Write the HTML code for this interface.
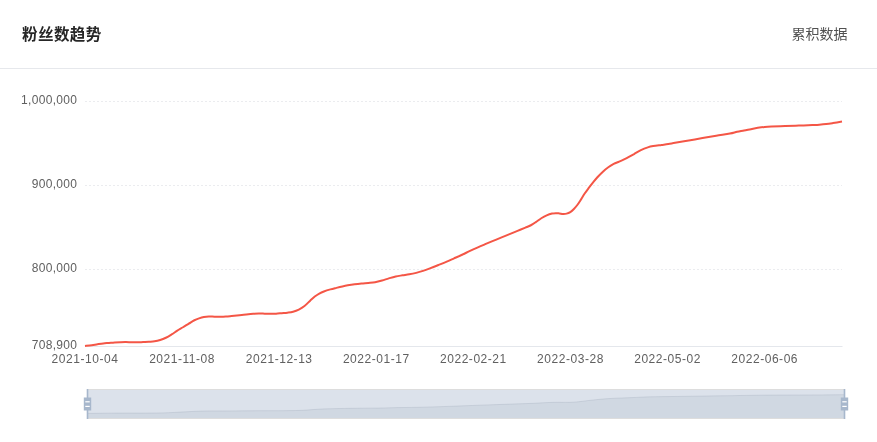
<!DOCTYPE html>
<html lang="zh-CN"><head><meta charset="utf-8"><title>粉丝数趋势</title>
<style>
html,body{margin:0;padding:0;background:#fff;}
body{width:877px;height:442px;overflow:hidden;position:relative;font-family:"Liberation Sans","Noto Sans CJK SC",sans-serif;}
.hd{position:absolute;left:0;top:0;width:877px;height:68px;border-bottom:1px solid #e6e8ec;box-sizing:content-box;}
.ttl{position:absolute;left:22px;top:23.4px;font-size:15.5px;letter-spacing:0.45px;line-height:24px;font-weight:bold;color:#262626;white-space:nowrap;}
.tab{position:absolute;left:791.5px;top:22.7px;font-size:14px;line-height:22px;color:#505050;white-space:nowrap;}
svg{position:absolute;left:0;top:0;}
.xl,.yl{font-family:"Liberation Sans","Noto Sans CJK SC",sans-serif;font-size:12px;fill:#606060;}
.xl{letter-spacing:0.54px;}
.yl{letter-spacing:0.32px;}
.gl{stroke:#ebecef;stroke-width:1;stroke-dasharray:2 2;}
</style></head><body>
<div class="hd"><div class="ttl">粉丝数趋势</div><div class="tab">累积数据</div></div>
<svg width="877" height="442" viewBox="0 0 877 442">
<line x1="85" x2="842" y1="101.5" y2="101.5" class="gl"/><line x1="85" x2="842" y1="185.5" y2="185.5" class="gl"/><line x1="85" x2="842" y1="269.5" y2="269.5" class="gl"/>
<line x1="85" x2="842.5" y1="346.5" y2="346.5" stroke="#e4e7ec" stroke-width="1"/>
<text x="77.3" y="103.5" text-anchor="end" class="yl">1,000,000</text><text x="77.3" y="187.5" text-anchor="end" class="yl">900,000</text><text x="77.3" y="271.5" text-anchor="end" class="yl">800,000</text><text x="77.3" y="348.5" text-anchor="end" class="yl">708,900</text>
<text x="85.0" y="362.7" text-anchor="middle" class="xl">2021-10-04</text><text x="182.1" y="362.7" text-anchor="middle" class="xl">2021-11-08</text><text x="279.2" y="362.7" text-anchor="middle" class="xl">2021-12-13</text><text x="376.3" y="362.7" text-anchor="middle" class="xl">2022-01-17</text><text x="473.4" y="362.7" text-anchor="middle" class="xl">2022-02-21</text><text x="570.5" y="362.7" text-anchor="middle" class="xl">2022-03-28</text><text x="667.6" y="362.7" text-anchor="middle" class="xl">2022-05-02</text><text x="764.7" y="362.7" text-anchor="middle" class="xl">2022-06-06</text>
<path d="M85.00,346.00C86.13,345.86 89.72,345.44 91.80,345.15C93.88,344.86 95.60,344.53 97.50,344.25C99.40,343.97 101.30,343.67 103.20,343.45C105.10,343.23 107.00,343.12 108.90,342.95C110.80,342.77 112.70,342.53 114.60,342.40C116.50,342.27 118.40,342.21 120.30,342.15C122.20,342.09 124.10,342.02 126.00,342.05C127.90,342.08 129.80,342.25 131.70,342.30C133.60,342.35 135.50,342.39 137.40,342.35C139.30,342.31 141.20,342.15 143.10,342.05C145.00,341.95 146.90,341.87 148.80,341.75C150.70,341.63 152.60,341.63 154.50,341.35C156.40,341.07 158.30,340.65 160.20,340.05C162.10,339.45 164.00,338.68 165.90,337.75C167.80,336.82 169.70,335.63 171.60,334.45C173.50,333.27 175.40,331.85 177.30,330.65C179.20,329.45 181.08,328.42 183.00,327.25C184.92,326.08 186.90,324.82 188.80,323.65C190.70,322.48 192.70,321.13 194.40,320.25C196.10,319.37 197.42,318.90 199.00,318.35C200.58,317.80 202.27,317.27 203.90,316.95C205.53,316.62 207.03,316.45 208.80,316.40C210.57,316.35 212.60,316.59 214.50,316.65C216.40,316.71 218.30,316.77 220.20,316.75C222.10,316.73 224.00,316.67 225.90,316.55C227.80,316.43 228.95,316.30 231.60,316.05C234.25,315.80 238.20,315.42 241.80,315.05C245.40,314.68 250.35,314.10 253.20,313.85C256.05,313.60 257.00,313.58 258.90,313.55C260.80,313.52 262.70,313.61 264.60,313.65C266.50,313.69 268.40,313.80 270.30,313.80C272.20,313.80 274.10,313.76 276.00,313.65C277.90,313.54 279.80,313.32 281.70,313.15C283.60,312.98 285.50,312.88 287.40,312.65C289.30,312.42 291.20,312.25 293.10,311.75C295.00,311.25 296.90,310.60 298.80,309.65C300.70,308.70 302.60,307.55 304.50,306.05C306.40,304.55 308.48,302.23 310.20,300.65C311.92,299.07 313.28,297.73 314.80,296.55C316.32,295.37 317.78,294.40 319.30,293.55C320.82,292.70 322.05,292.15 323.90,291.45C325.75,290.75 328.32,289.95 330.40,289.35C332.48,288.75 334.40,288.33 336.40,287.85C338.40,287.37 340.50,286.87 342.40,286.45C344.30,286.03 345.77,285.72 347.80,285.35C349.83,284.98 352.32,284.57 354.60,284.25C356.88,283.93 359.22,283.67 361.50,283.45C363.78,283.23 366.03,283.15 368.30,282.95C370.57,282.75 372.82,282.65 375.10,282.25C377.38,281.85 379.72,281.20 382.00,280.55C384.28,279.90 386.52,279.03 388.80,278.35C391.08,277.67 393.42,276.95 395.70,276.45C397.98,275.95 400.23,275.70 402.50,275.35C404.77,275.00 407.02,274.77 409.30,274.35C411.58,273.93 413.92,273.43 416.20,272.85C418.48,272.27 420.72,271.60 423.00,270.85C425.28,270.10 427.35,269.32 429.90,268.35C432.45,267.38 435.58,266.13 438.30,265.05C441.02,263.97 443.57,262.97 446.20,261.85C448.83,260.73 451.45,259.53 454.10,258.35C456.75,257.17 459.45,255.98 462.10,254.75C464.75,253.52 467.37,252.18 470.00,250.95C472.63,249.72 475.27,248.52 477.90,247.35C480.53,246.18 483.17,245.07 485.80,243.95C488.43,242.83 491.07,241.75 493.70,240.65C496.33,239.55 498.95,238.45 501.60,237.35C504.25,236.25 506.95,235.13 509.60,234.05C512.25,232.97 514.87,231.92 517.50,230.85C520.13,229.78 523.17,228.58 525.40,227.65C527.63,226.72 529.17,226.17 530.90,225.25C532.63,224.33 534.07,223.32 535.80,222.15C537.53,220.98 539.48,219.38 541.30,218.25C543.12,217.12 544.90,216.13 546.70,215.35C548.50,214.57 550.58,213.92 552.10,213.55C553.62,213.18 554.58,213.17 555.80,213.15C557.02,213.13 558.20,213.32 559.40,213.45C560.60,213.58 561.80,213.92 563.00,213.95C564.20,213.98 565.38,213.97 566.60,213.65C567.82,213.33 569.08,212.83 570.30,212.05C571.52,211.27 572.70,210.17 573.90,208.95C575.10,207.73 576.30,206.35 577.50,204.75C578.70,203.15 579.90,201.22 581.10,199.35C582.30,197.48 583.48,195.37 584.70,193.55C585.92,191.73 587.03,190.27 588.40,188.45C589.77,186.63 591.40,184.52 592.90,182.65C594.40,180.78 595.73,179.08 597.40,177.25C599.07,175.42 601.08,173.32 602.90,171.65C604.72,169.98 606.50,168.55 608.30,167.25C610.10,165.95 611.88,164.78 613.70,163.85C615.52,162.92 617.38,162.43 619.20,161.65C621.02,160.87 622.98,159.93 624.60,159.15C626.22,158.37 627.32,157.80 628.90,156.95C630.48,156.10 632.10,155.18 634.10,154.05C636.10,152.92 638.62,151.27 640.90,150.15C643.18,149.03 645.75,148.03 647.80,147.35C649.85,146.67 650.92,146.45 653.20,146.05C655.48,145.65 658.98,145.28 661.50,144.95C664.02,144.62 666.03,144.40 668.30,144.05C670.57,143.70 671.68,143.44 675.10,142.85C678.52,142.26 684.23,141.29 688.80,140.50C693.37,139.71 697.93,138.90 702.50,138.10C707.07,137.30 711.63,136.47 716.20,135.70C720.77,134.93 726.40,134.16 729.90,133.50C733.40,132.84 734.83,132.24 737.20,131.75C739.57,131.26 741.82,130.98 744.10,130.55C746.38,130.12 748.62,129.60 750.90,129.15C753.18,128.70 755.52,128.22 757.80,127.85C760.08,127.48 762.32,127.13 764.60,126.90C766.88,126.67 768.08,126.59 771.50,126.45C774.92,126.31 780.55,126.19 785.10,126.05C789.65,125.91 794.23,125.77 798.80,125.60C803.37,125.43 809.08,125.20 812.50,125.05C815.92,124.90 817.02,124.87 819.30,124.70C821.58,124.53 823.92,124.33 826.20,124.05C828.48,123.78 830.37,123.47 833.00,123.05C835.63,122.63 840.50,121.80 842.00,121.55" fill="none" stroke="#f45646" stroke-width="2" stroke-linejoin="round"/>
<polygon points="87.50,413.40 94.30,413.33 100.00,413.25 105.70,413.19 111.40,413.15 117.10,413.10 122.80,413.08 128.50,413.07 134.20,413.09 139.90,413.10 145.60,413.07 151.30,413.05 157.00,413.01 162.70,412.90 168.40,412.71 174.10,412.44 179.80,412.12 185.50,411.83 191.30,411.53 196.90,411.25 201.50,411.09 206.40,410.97 211.30,410.93 217.00,410.95 222.70,410.96 228.40,410.94 234.10,410.90 244.30,410.82 255.70,410.72 261.40,410.69 267.10,410.70 272.80,410.71 278.50,410.70 284.20,410.66 289.90,410.62 295.60,410.54 301.30,410.37 307.00,410.06 312.70,409.61 317.30,409.27 321.80,409.02 326.40,408.85 332.90,408.67 338.90,408.55 344.90,408.43 350.30,408.34 357.10,408.25 364.00,408.18 370.80,408.14 377.60,408.08 384.50,407.94 391.30,407.75 398.20,407.59 405.00,407.50 411.80,407.42 418.70,407.29 425.50,407.13 432.40,406.92 440.80,406.64 448.70,406.38 456.60,406.08 464.60,405.78 472.50,405.47 480.40,405.16 488.30,404.88 496.20,404.61 504.10,404.33 512.10,404.05 520.00,403.79 527.90,403.52 533.40,403.32 538.30,403.06 543.80,402.74 549.20,402.49 554.60,402.34 558.30,402.31 561.90,402.33 565.50,402.38 569.10,402.35 572.80,402.22 576.40,401.96 580.00,401.61 583.60,401.16 587.20,400.67 590.90,400.25 595.40,399.76 599.90,399.31 605.40,398.84 610.80,398.48 616.20,398.19 621.70,398.01 627.10,397.80 631.40,397.62 636.60,397.38 643.40,397.05 650.30,396.82 655.70,396.71 664.00,396.62 670.80,396.54 677.60,396.44 691.30,396.24 705.00,396.04 718.70,395.84 732.40,395.66 739.70,395.51 746.60,395.41 753.40,395.30 760.30,395.19 767.10,395.11 774.00,395.07 787.60,395.04 801.30,395.00 815.00,394.95 821.80,394.93 828.70,394.87 835.50,394.79 844.50,394.66 844.50,419 87.50,419" fill="rgba(47,69,84,0.09)"/>
<polyline points="87.50,413.40 94.30,413.33 100.00,413.25 105.70,413.19 111.40,413.15 117.10,413.10 122.80,413.08 128.50,413.07 134.20,413.09 139.90,413.10 145.60,413.07 151.30,413.05 157.00,413.01 162.70,412.90 168.40,412.71 174.10,412.44 179.80,412.12 185.50,411.83 191.30,411.53 196.90,411.25 201.50,411.09 206.40,410.97 211.30,410.93 217.00,410.95 222.70,410.96 228.40,410.94 234.10,410.90 244.30,410.82 255.70,410.72 261.40,410.69 267.10,410.70 272.80,410.71 278.50,410.70 284.20,410.66 289.90,410.62 295.60,410.54 301.30,410.37 307.00,410.06 312.70,409.61 317.30,409.27 321.80,409.02 326.40,408.85 332.90,408.67 338.90,408.55 344.90,408.43 350.30,408.34 357.10,408.25 364.00,408.18 370.80,408.14 377.60,408.08 384.50,407.94 391.30,407.75 398.20,407.59 405.00,407.50 411.80,407.42 418.70,407.29 425.50,407.13 432.40,406.92 440.80,406.64 448.70,406.38 456.60,406.08 464.60,405.78 472.50,405.47 480.40,405.16 488.30,404.88 496.20,404.61 504.10,404.33 512.10,404.05 520.00,403.79 527.90,403.52 533.40,403.32 538.30,403.06 543.80,402.74 549.20,402.49 554.60,402.34 558.30,402.31 561.90,402.33 565.50,402.38 569.10,402.35 572.80,402.22 576.40,401.96 580.00,401.61 583.60,401.16 587.20,400.67 590.90,400.25 595.40,399.76 599.90,399.31 605.40,398.84 610.80,398.48 616.20,398.19 621.70,398.01 627.10,397.80 631.40,397.62 636.60,397.38 643.40,397.05 650.30,396.82 655.70,396.71 664.00,396.62 670.80,396.54 677.60,396.44 691.30,396.24 705.00,396.04 718.70,395.84 732.40,395.66 739.70,395.51 746.60,395.41 753.40,395.30 760.30,395.19 767.10,395.11 774.00,395.07 787.60,395.04 801.30,395.00 815.00,394.95 821.80,394.93 828.70,394.87 835.50,394.79 844.50,394.66" fill="none" stroke="#2f4554" stroke-opacity="0.3" stroke-width="0.5"/>
<rect x="87.5" y="389.5" width="757" height="29" fill="rgba(167,183,204,0.4)"/>
<rect x="87.5" y="389.5" width="757" height="29" fill="none" stroke="#ddd" stroke-width="1"/>
<g fill="#a7b7cc"><rect x="86.70" y="389" width="1.6" height="30"/><rect x="83.80" y="397.5" width="7.4" height="13"/></g><g fill="#fff"><rect x="85.30" y="401.2" width="4.4" height="1.2"/><rect x="85.30" y="405.8" width="4.4" height="1.2"/></g>
<g fill="#a7b7cc"><rect x="843.70" y="389" width="1.6" height="30"/><rect x="840.80" y="397.5" width="7.4" height="13"/></g><g fill="#fff"><rect x="842.30" y="401.2" width="4.4" height="1.2"/><rect x="842.30" y="405.8" width="4.4" height="1.2"/></g>
</svg>
</body></html>
